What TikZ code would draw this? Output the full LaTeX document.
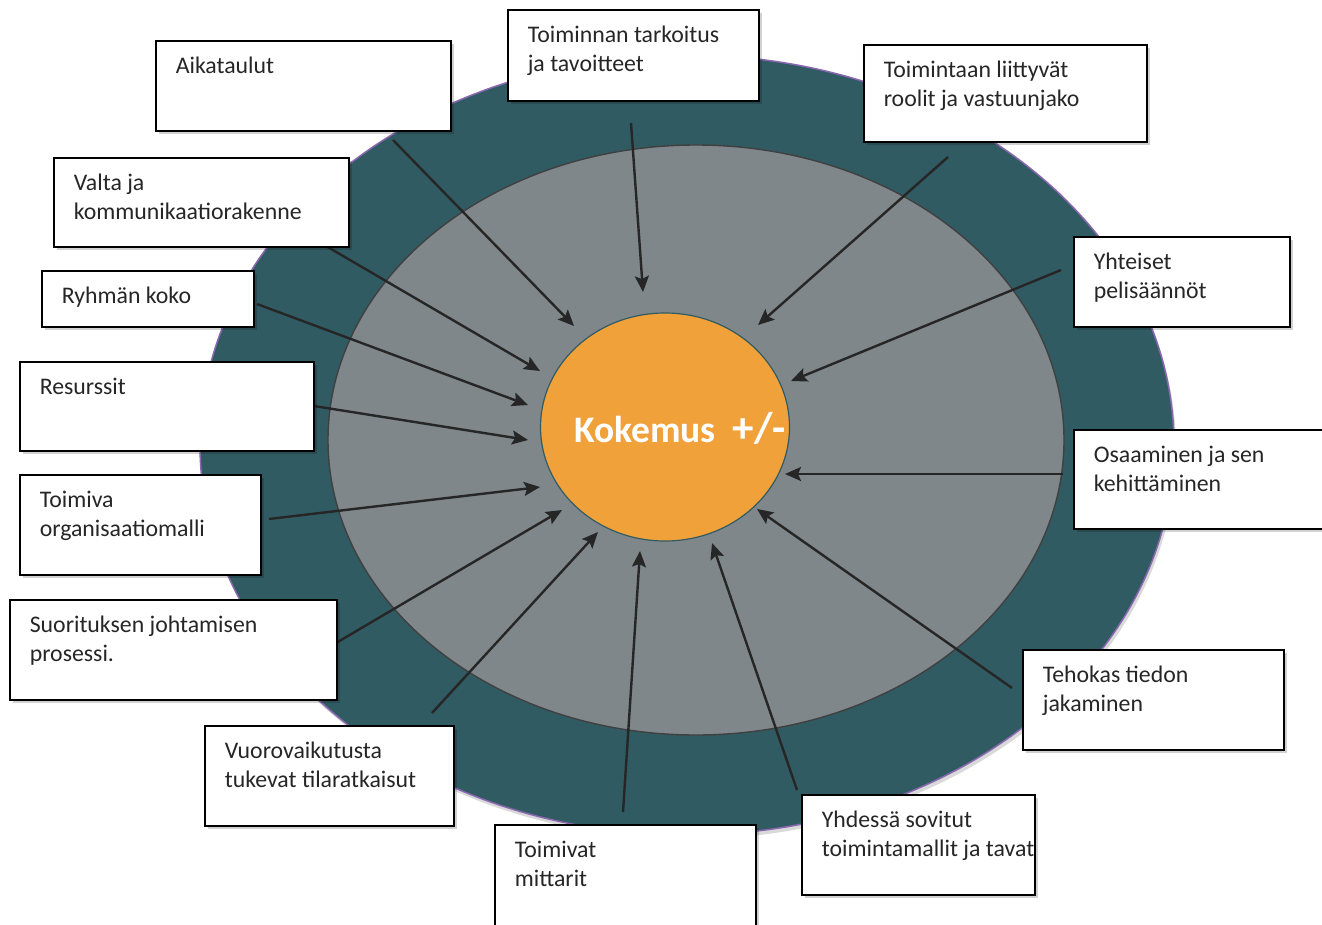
\documentclass[tikz,border=0pt]{standalone}
\usepackage{fontspec}
\setmainfont{Carlito}
\usetikzlibrary{shadows,arrows.meta,calc,shapes.geometric}
\definecolor{teal1}{HTML}{315B63}
\definecolor{grayell}{HTML}{7F878B}
\definecolor{orng}{HTML}{F1A13A}
\definecolor{purp}{HTML}{8A68B0}
\definecolor{txt}{HTML}{262626}
\newcommand{\btxt}[3]{\begin{minipage}[t][#2pt][t]{#1pt}\raggedright\setlength{\leftskip}{20pt}\vspace*{12pt}\strut #3\end{minipage}}
\begin{document}
\begin{tikzpicture}[x=1pt,y=-1pt,
  box/.style={draw=black,line width=1.6pt,fill=white,inner sep=0pt,anchor=north west,
    text=txt,font=\fontsize{23.8}{29}\selectfont,
    drop shadow={shadow xshift=3pt,shadow yshift=-3pt,fill=black,opacity=0.18}},
  arr/.style={draw=txt,line width=2.4pt,-{Stealth[length=16pt,width=14pt,inset=3pt]}}]
\useasboundingbox (0,0) rectangle (1322,924);
% ellipses
\path[fill=teal1,draw=purp,line width=1.5pt,
  drop shadow={shadow xshift=2pt,shadow yshift=-4pt,fill=black,opacity=0.15}]
  (687,445) ellipse [x radius=487,y radius=390];
\path[fill=grayell,draw=black!75,line width=1.4pt] (696,440) ellipse [x radius=368,y radius=295];
\node[ellipse,fill=orng,draw=teal1,line width=1.2pt,minimum width=249pt,minimum height=228pt,inner sep=0pt] (kok) at (665,427) {};
\node[text=white,font=\fontsize{37.5}{42}\selectfont\bfseries] (kt) at (680,428) {Kokemus\hspace{0.45em}\fontsize{43}{42}\selectfont+/-};
% arrows
\coordinate (s1) at (393,140);  \coordinate (e1) at (574,326);
\coordinate (s2) at (631,123);  \coordinate (e2) at (643,292);
\coordinate (s3) at (948,157);  \coordinate (e3) at (758,325);
\coordinate (s4) at (326,246);  \coordinate (e4) at (540,371);
\coordinate (s5) at (1061,270); \coordinate (e5) at (791,381);
\coordinate (s6) at (257,304);  \coordinate (e6) at (528,405);
\coordinate (s7) at (314,406);  \coordinate (e7) at (528,440);
\coordinate (s8) at (1063,474); \coordinate (e8) at (785,474);
\coordinate (s9) at (269,519);  \coordinate (e9) at (540,487);
\coordinate (s10) at (336,643); \coordinate (e10) at (562,510);
\coordinate (s11) at (1012,688);\coordinate (e11) at (757,509);
\coordinate (s12) at (432,713); \coordinate (e12) at (598,532);
\coordinate (s13) at (797,790); \coordinate (e13) at (712,543);
\coordinate (s14) at (623,812); \coordinate (e14) at (640,551);
\foreach \i in {1,...,14} {\draw[arr] (s\i) -- (e\i);}
% boxes
\node[box] (b1) at (155,40) {\btxt{295}{90}{Aikataulut}};
\node[box] (b2) at (507,9) {\btxt{251}{91}{Toiminnan tarkoitus\\ja tavoitteet}};
\node[box] (b3) at (863,44) {\btxt{283}{97}{Toimintaan liittyvät\\roolit ja vastuunjako}};
\node[box] (b4) at (53,157) {\btxt{295}{89}{Valta ja\\kommunikaatiorakenne}};
\node[box] (b5) at (1073,236) {\btxt{216}{90}{Yhteiset\\pelisäännöt}};
\node[box] (b6) at (41,270) {\btxt{212}{56}{Ryhmän koko}};
\node[box] (b7) at (19,361) {\btxt{294}{89}{Resurssit}};
\node[box] (b8) at (1073,429) {\btxt{262}{99}{Osaaminen ja sen\\kehittäminen}};
\node[box] (b9) at (19,474) {\btxt{241}{100}{Toimiva\\organisaatiomalli}};
\node[box] (b10) at (9,599) {\btxt{327}{100}{Suorituksen johtamisen\\prosessi.}};
\node[box] (b11) at (1022,649) {\btxt{261}{100}{Tehokas tiedon\\jakaminen}};
\node[box] (b12) at (204,725) {\btxt{249}{100}{Vuorovaikutusta\\tukevat tilaratkaisut}};
\node[box] (b13) at (801,794) {\btxt{233}{100}{Yhdessä sovitut\\toimintamallit ja tavat}};
\node[box] (b14) at (494,824) {\btxt{261}{110}{Toimivat\\mittarit}};
\end{tikzpicture}
\end{document}
